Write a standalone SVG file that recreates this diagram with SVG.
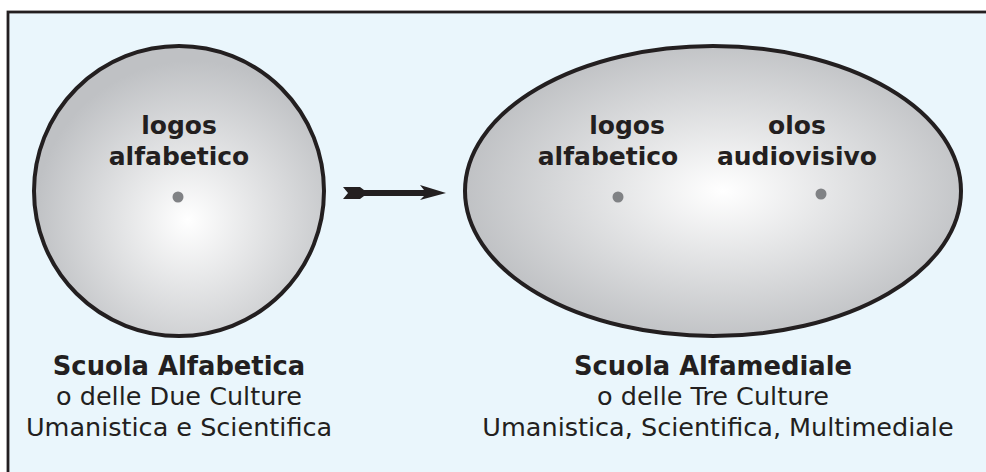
<svg xmlns="http://www.w3.org/2000/svg" width="986" height="472" viewBox="0 0 986 472">
<defs>
<radialGradient id="gc" cx="0.55" cy="0.6" r="0.55" fx="0.53" fy="0.6">
<stop offset="0" stop-color="#ffffff"/>
<stop offset="1" stop-color="#bfc1c4"/>
</radialGradient>
<radialGradient id="ge" cx="0.52" cy="0.5" r="0.55" fx="0.52" fy="0.5">
<stop offset="0" stop-color="#ffffff"/>
<stop offset="1" stop-color="#bcbec1"/>
</radialGradient>
<style>
.shape{stroke:#231f20;stroke-width:4}
.dot{fill:#808285}
.lbl{font-family:"DejaVu Sans",Verdana,sans-serif;font-weight:bold;font-size:25px;fill:#231f20;text-anchor:middle}
.cap{font-family:"DejaVu Sans",Verdana,sans-serif;font-size:25.5px;fill:#231f20;text-anchor:middle}
.capb{font-family:"DejaVu Sans",Verdana,sans-serif;font-weight:bold;font-size:25.8px;fill:#231f20;text-anchor:middle}
</style>
</defs>
<rect x="0" y="0" width="986" height="472" fill="#ffffff"/>
<rect x="8" y="12" width="990" height="470" fill="#eaf6fc" stroke="#231f20" stroke-width="2.8"/>
<g id="scuola-alfabetica">
<circle cx="179" cy="191" r="145" fill="url(#gc)" class="shape"/>
<text class="lbl" x="179" y="134">logos</text>
<text class="lbl" x="179" y="165">alfabetico</text>
<circle class="dot" cx="178" cy="197" r="5.5"/>
<text class="capb" x="179" y="375">Scuola Alfabetica</text>
<text class="cap" x="179" y="405">o delle Due Culture</text>
<text class="cap" x="179" y="436">Umanistica e Scientifica</text>
</g>
<g id="scuola-alfamediale">
<ellipse cx="713" cy="191" rx="248" ry="145" fill="url(#ge)" class="shape"/>
<text class="lbl" x="627" y="134">logos</text>
<text class="lbl" x="608" y="165">alfabetico</text>
<circle class="dot" cx="618" cy="197" r="5.5"/>
<text class="lbl" x="797" y="134">olos</text>
<text class="lbl" x="797" y="165">audiovisivo</text>
<circle class="dot" cx="821" cy="194" r="5.5"/>
<text class="capb" x="713" y="375">Scuola Alfamediale</text>
<text class="cap" x="713" y="405">o delle Tre Culture</text>
<text class="cap" x="718" y="436">Umanistica, Scientifica, Multimediale</text>
</g>
<g id="connectors">
<path d="M343,187 L360,187 L364,190 L424,190 L420,185 L446,193 L420,200 L424,196 L364,196 L360,199 L343,199 L348,193 Z" fill="#231f20"/>
</g>
</svg>
